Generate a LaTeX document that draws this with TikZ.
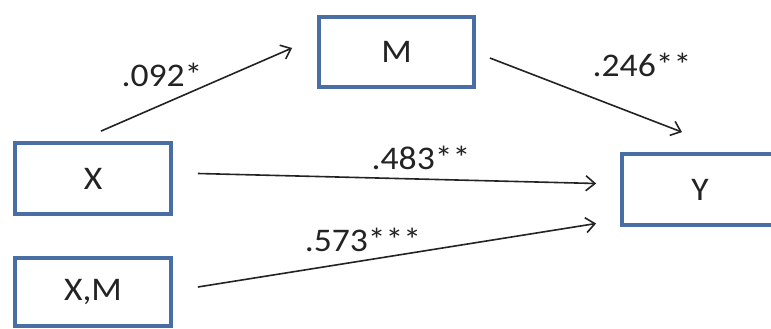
\documentclass[tikz,border=0pt]{standalone}
\usepackage{fontspec}
\setmainfont{Carlito}[FakeStretch=1.08]
\usetikzlibrary{arrows.meta,calc}
\definecolor{boxblue}{RGB}{72,110,165}
\definecolor{ink}{RGB}{35,35,35}
\tikzset{
  varbox/.style={draw=boxblue, line width=3.8pt, fill=white, minimum width=156pt, minimum height=71pt, inner sep=0pt, text=ink, font=\fontsize{33}{38}\selectfont},
  arr/.style={draw=ink, line width=1.6pt, -{Straight Barb[length=9pt,width=15pt,line width=1.6pt]}},
  coef/.style={text=ink, inner sep=0pt, font=\fontsize{33}{38}\selectfont}
}
\begin{document}
\begin{tikzpicture}[x=1pt,y=-1pt]
\useasboundingbox (0,0) rectangle (771,329);
\clip (0,0) rectangle (771,329);
\fill[white] (0,0) rectangle (771,329);
\node[varbox, minimum width=155pt, minimum height=70pt] (M) at (396.5,52) {M};
\node[varbox] (X) at (93,178.5) {X};
\node[varbox, minimum height=68pt] (XM) at (93,292) {X,M};
\node[varbox] (Y) at (700,189.5) {Y};
\draw[arr] ($(X.north)+(8,-10)$) -- ($(M.west)+(-25,-4)$);
\draw[arr] ($(M.east)+(14,6)$) -- ($(Y.north)+(-18,-20)$);
\draw[arr] ($(X.east)+(25,-5)$) -- ($(Y.west)+(-24,-6)$);
\draw[arr] ($(XM.east)+(25,-5)$) -- ($(Y.west)+(-24,34)$);
\node[coef] (c1) at (162,75) {.092*};
\node[coef] (c2) at (642,65) {.246**};
\node[coef] (c3) at (421,158) {.483**};
\node[coef] (c4) at (363,240) {.573***};
\end{tikzpicture}
\end{document}
